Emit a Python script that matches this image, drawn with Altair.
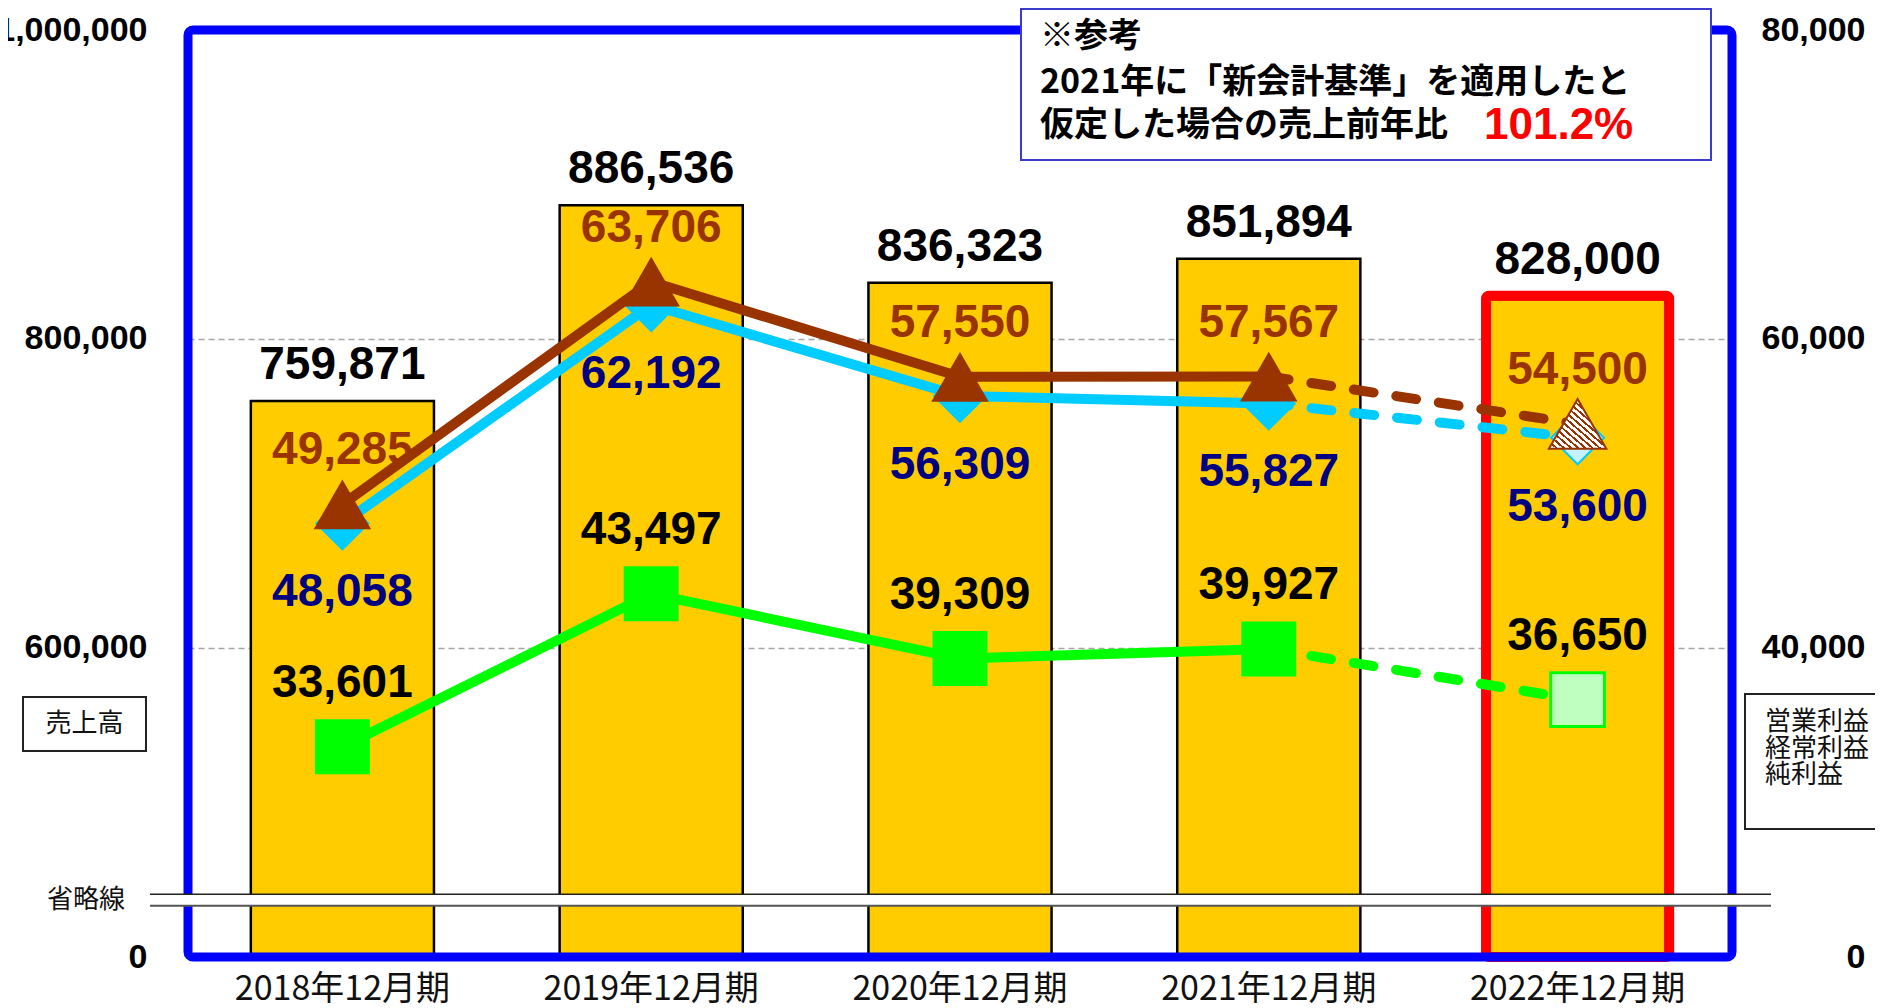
import altair as alt
import pandas as pd

# ---------------- data ----------------
years = ["2018年12月期", "2019年12月期", "2020年12月期", "2021年12月期", "2022年12月期"]
sales = [759871, 886536, 836323, 851894, 828000]          # 売上高
keijo = [49285, 63706, 57550, 57567, 54500]                # brown line (triangle)
eigyo = [48058, 62192, 56309, 55827, 53600]                # cyan line (diamond)
junri = [33601, 43497, 39309, 39927, 36650]                # green line (square)

left_ticks = [0, 600000, 800000, 1000000]
right_ticks = [0, 40000, 60000, 80000]
sales_break = [0, 440000, 1000000]      # broken axis: 0 | break | 440k..1,000k
profit_break = [0, 24000, 80000]

actual_years = years[:4]
plan_years = years[3:]
forecast_year = years[4:]

note_lines = ["※参考", "2021年に「新会計基準」を適用したと", "仮定した場合の売上前年比"]
note_value = "101.2%"
legend_left = "売上高"
legend_right = ["営業利益", "経常利益", "純利益"]
break_label = "省略線"

df = pd.DataFrame({"year": years, "sales": sales, "keijo": keijo,
                   "eigyo": eigyo, "junri": junri})
one = pd.DataFrame({"k": [0]})

# ---------------- style ----------------
W, H = 1544, 927
BAR = "#FFCC00"
BROWN = "#993300"
CYAN = "#00CCFF"
GREEN = "#00FF00"
NAVY = "#000080"
BLUE = "#0000FF"
NUM_FONT = "Liberation Sans"
JP_FONT = "Noto Sans CJK JP"

x_scale = alt.Scale(domain=years, paddingInner=0.407, paddingOuter=0.2035)


def X():
    return alt.X("year:N", scale=x_scale, axis=None)


s_scale = alt.Scale(domain=sales_break, range=[H, H - 62, 0], nice=False, zero=False)
p_scale = alt.Scale(domain=profit_break, range=[H, H - 62, 0], nice=False, zero=False)

left_axis = alt.Axis(orient="left", values=left_ticks, format=",.0f", title=None,
                     labelFont=NUM_FONT, labelFontWeight="bold", labelFontSize=34,
                     labelColor="black", labelPadding=41, ticks=False,
                     domain=False, grid=True, gridColor="#A6A6A6", gridDash=[6, 4],
                     gridWidth=1.5, labelOverlap=False)
right_axis = alt.Axis(orient="right", values=right_ticks, format=",.0f", title=None,
                      labelFont=NUM_FONT, labelFontWeight="bold", labelFontSize=34,
                      labelColor="black", labelAlign="right", labelPadding=133,
                      ticks=False, domain=False, grid=False, labelOverlap=False)


def in_years(sub):
    return alt.FieldOneOfPredicate(field="year", oneOf=sub)


def stripes(c1, c2, n, frac, x1, y1, x2, y2):
    stops = []
    for i in range(n):
        a, b, c = i / n, (i + frac) / n, (i + 1) / n
        stops += [alt.GradientStop(color=c1, offset=a), alt.GradientStop(color=c1, offset=b),
                  alt.GradientStop(color=c2, offset=b), alt.GradientStop(color=c2, offset=c)]
    return alt.LinearGradient(gradient="linear", stops=stops, x1=x1, y1=y1, x2=x2, y2=y2)


base = alt.Chart(df)

# ---------------- sales ----------------
bars_actual = base.transform_filter(in_years(actual_years)).mark_bar(
    fill=BAR, stroke="black", strokeWidth=2.5
).encode(x=X(), y=alt.Y("sales:Q", scale=s_scale, axis=left_axis))

bars_plan = base.transform_filter(in_years(forecast_year)).mark_bar(
    fill=BAR, stroke="#FF0000", strokeWidth=10, cornerRadius=3
).encode(x=X(), y=alt.Y("sales:Q", scale=s_scale, axis=None))

sales_text = base.mark_text(
    font=NUM_FONT, fontWeight="bold", fontSize=46, baseline="alphabetic", dy=-22, color="black"
).encode(x=X(), y=alt.Y("sales:Q", scale=s_scale, axis=None),
         text=alt.Text("sales:Q", format=","))

frame = alt.Chart(one).mark_rect(
    fillOpacity=0, stroke=BLUE, strokeWidth=9, cornerRadius=5
).encode(x=alt.value(0), x2=alt.value(W), y=alt.value(0), y2=alt.value(H))

# category labels under the plot (band-scale positioned)
x_labels = base.mark_text(
    font=JP_FONT, fontSize=34, baseline="middle", align="center", color="#111111"
).encode(x=X(), y=alt.value(H + 33), text="year:N")


# ---------------- profits ----------------
def YP(field, axis=None):
    return alt.Y(f"{field}:Q", scale=p_scale, axis=axis)


def ptext(field, color, dy, axis=None):
    return base.mark_text(font=NUM_FONT, fontWeight="bold", fontSize=46,
                          baseline="alphabetic", dy=dy, color=color).encode(
        x=X(), y=YP(field, axis), text=alt.Text(f"{field}:Q", format=","))


def pline(field, color, sub, dashed):
    extra = {"strokeCap": "round", "strokeDash": [20, 23]} if dashed else {}
    return base.transform_filter(in_years(sub)).mark_line(
        color=color, strokeWidth=10, strokeJoin="round", **extra
    ).encode(x=X(), y=YP(field))


t_keijo = ptext("keijo", BROWN, -40, right_axis)
t_eigyo = ptext("eigyo", NAVY, 83)
t_junri = ptext("junri", "black", -50)

l_green = pline("junri", GREEN, actual_years, False)
l_green_d = pline("junri", GREEN, plan_years, True)
l_cyan = pline("eigyo", CYAN, actual_years, False)
l_cyan_d = pline("eigyo", CYAN, plan_years, True)
l_brown = pline("keijo", BROWN, actual_years, False)
l_brown_d = pline("keijo", BROWN, plan_years, True)

sq_a = base.transform_filter(in_years(actual_years)).mark_point(
    shape="square", size=3025, filled=True, fill=GREEN, strokeWidth=0, opacity=1
).encode(x=X(), y=YP("junri"))
sq_f = base.transform_filter(in_years(forecast_year)).mark_point(
    shape="square", size=2900, filled=True, fill="#BFFFBF", stroke=GREEN, strokeWidth=3,
    opacity=1, fillOpacity=1, strokeOpacity=1
).encode(x=X(), y=YP("junri"))

dm_a = base.transform_filter(in_years(actual_years)).mark_point(
    shape="diamond", size=3000, filled=True, fill=CYAN, strokeWidth=0, opacity=1
).encode(x=X(), y=YP("eigyo"))
dm_f = base.transform_filter(in_years(forecast_year)).mark_point(
    shape="diamond", size=2800, filled=True, fill="#C6F2FF", stroke=CYAN, strokeWidth=2,
    opacity=1, fillOpacity=1, strokeOpacity=1
).encode(x=X(), y=YP("eigyo"))

tr_a = base.transform_filter(in_years(actual_years)).mark_point(
    shape="triangle-up", size=3300, filled=True, fill=BROWN, strokeWidth=0, opacity=1
).encode(x=X(), y=YP("keijo"))
tr_f = base.transform_filter(in_years(forecast_year)).mark_point(
    shape="triangle-up", size=3300, filled=True,
    fill=stripes(BROWN, "#FFFFFF", 16, 0.4, 0, 1, 1, 0),
    stroke=BROWN, strokeWidth=2, opacity=1, fillOpacity=1, strokeOpacity=1
).encode(x=X(), y=YP("keijo"))

# ---------------- annotations ----------------
ann = alt.Chart(one)
break_band = ann.mark_rect(fill="white").encode(
    x=alt.value(-38), x2=alt.value(1583), y=alt.value(864.3), y2=alt.value(875.7))
break_top = ann.mark_rule(color="#222222", strokeWidth=1.5).encode(
    x=alt.value(-38), x2=alt.value(1583), y=alt.value(864.3))
break_bot = ann.mark_rule(color="#555555", strokeWidth=2).encode(
    x=alt.value(-38), x2=alt.value(1583), y=alt.value(875.7))
break_txt = ann.mark_text(text=break_label, font=JP_FONT, fontSize=26, color="#111111",
                          baseline="middle", align="center").encode(
    x=alt.value(-102), y=alt.value(870))

lbox = ann.mark_rect(fill="white", stroke="#222222", strokeWidth=2).encode(
    x=alt.value(-165), x2=alt.value(-42), y=alt.value(667), y2=alt.value(721))
ltxt = ann.mark_text(text=legend_left, font=JP_FONT, fontSize=26, color="#111111",
                     baseline="middle", align="center").encode(
    x=alt.value(-103.5), y=alt.value(694))

rbox = ann.mark_rect(fill="white", stroke="#222222", strokeWidth=2).encode(
    x=alt.value(1557), x2=alt.value(1720), y=alt.value(664), y2=alt.value(799))
rtxt = ann.mark_text(text=legend_right, font=JP_FONT, fontSize=26, color="#111111",
                     baseline="middle", align="left", lineHeight=26.5).encode(
    x=alt.value(1577), y=alt.value(692))

nbox = ann.mark_rect(fill="white", stroke="#3B3BD0", strokeWidth=2).encode(
    x=alt.value(833), x2=alt.value(1523), y=alt.value(-21), y2=alt.value(130))


def note(txt, y):
    return ann.mark_text(text=txt, font=JP_FONT, fontSize=34, fontWeight="bold",
                         color="black", baseline="middle", align="left").encode(
        x=alt.value(852), y=alt.value(y))


n1 = note(note_lines[0], 7)
n2 = note(note_lines[1], 53)
n3 = note(note_lines[2], 96)
nval = ann.mark_text(text=note_value, font=NUM_FONT, fontSize=44, fontWeight="bold",
                     color="#FF0000", baseline="middle", align="left").encode(
    x=alt.value(1296), y=alt.value(96))

chart = alt.layer(
    bars_actual, bars_plan, sales_text, frame, x_labels,
    t_keijo, t_eigyo, t_junri,
    l_green, l_green_d, l_cyan, l_cyan_d, l_brown, l_brown_d,
    sq_a, sq_f, dm_a, dm_f, tr_a, tr_f,
    break_band, break_top, break_bot, break_txt,
    lbox, ltxt, rbox, rtxt, nbox, n1, n2, n3, nval
).resolve_scale(y="independent").properties(
    width=W, height=H, background="white",
    autosize=alt.AutoSizeParams(type="none"),
    padding={"left": 180, "top": 22, "right": 143, "bottom": 51}
).configure_view(strokeWidth=0)

chart.save("out.html", embed_options={"renderer": "svg", "actions": False})
